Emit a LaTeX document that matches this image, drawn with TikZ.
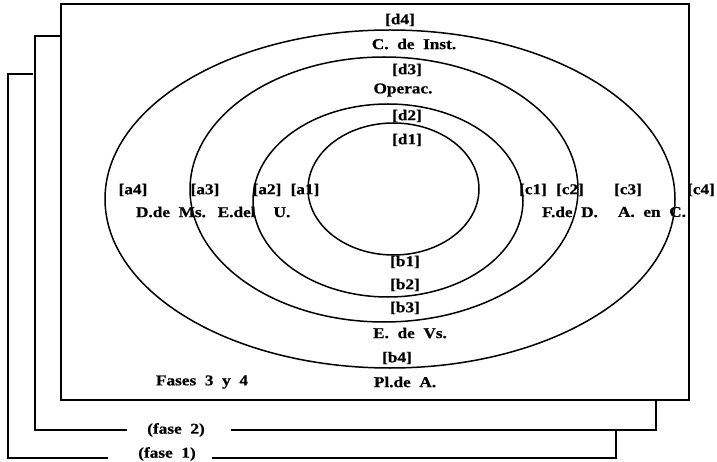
\documentclass[tikz,border=0pt]{standalone}
\usepackage{fontspec}
\setmainfont{Liberation Serif}[FakeStretch=1.15, WordSpace=2, BoldFeatures={FakeBold=0.6}]
\begin{document}
\begin{tikzpicture}[x=1pt,y=-1pt,
  lbl/.style={font=\bfseries\fontsize{15}{15}\selectfont, inner sep=0pt},
  ring/.style={line width=1.5pt},
  frame/.style={line width=1.4pt}]
\useasboundingbox (0,0) rectangle (717,462);
% frames
\draw[frame] (61,4) rectangle (689,400);
\draw[frame] (61,36) -- (35,36) -- (35,430) -- (127,430);
\draw[frame] (231,430) -- (656,430) -- (656,401);
\draw[frame] (33,74) -- (8,74) -- (8,458) -- (108,458);
\draw[frame] (212,458) -- (616,458) -- (616,431);
% rings
\draw[ring] (393.5,189) ellipse [x radius=85.5pt, y radius=66pt];
\draw[ring] (388,200.5) ellipse [x radius=135pt, y radius=96.5pt];
\draw[ring] (384,189.5) ellipse [x radius=194pt, y radius=132.5pt];
\draw[ring] (390,199) ellipse [x radius=285pt, y radius=169pt];
% top labels
\node[lbl] (d4) at (400,20) {[d4]};
\node[lbl] (cinst) at (414,44) {C. de Inst.};
\node[lbl] (d3) at (407,70) {[d3]};
\node[lbl] (operac) at (403,90) {Operac.};
\node[lbl] (d2) at (407,116) {[d2]};
\node[lbl] (d1) at (407,140) {[d1]};
% bottom labels
\node[lbl] (b1) at (405,262) {[b1]};
\node[lbl] (b2) at (405,285) {[b2]};
\node[lbl] (b3) at (405,308) {[b3]};
\node[lbl] (evs) at (410,333) {E. de Vs.};
\node[lbl] (b4) at (397,358) {[b4]};
\node[lbl] (pla) at (405,382) {Pl.de A.};
% left labels
\node[lbl] (a4) at (133,190) {[a4]};
\node[lbl] (a3) at (205,190) {[a3]};
\node[lbl] (a2) at (267,190) {[a2]};
\node[lbl] (a1) at (305,190) {[a1]};
\node[lbl] (dms) at (171,212) {D.de Ms.};
\node[lbl] (edu) at (254,212) {E.del\hspace{18pt}U.};
% right labels
\node[lbl] (c1) at (533,190) {[c1]};
\node[lbl] (c2) at (570,190) {[c2]};
\node[lbl] (c3) at (628,190) {[c3]};
\node[lbl] (c4) at (701,190) {[c4]};
\node[lbl] (fdd) at (570,212) {F.de D.};
\node[lbl] (aenc) at (652,212) {A. en C.};
% phase labels
\node[lbl] (fases) at (202,382) {Fases 3 y 4};
\node[lbl] (f2) at (176,430) {(fase 2)};
\node[lbl] (f1) at (167,454) {(fase 1)};
\end{tikzpicture}
\end{document}
